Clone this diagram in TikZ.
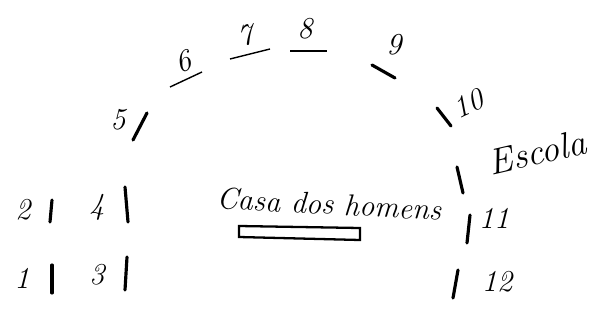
\documentclass[tikz,border=0pt]{standalone}
\usepackage{tikz}

\begin{document}
\begin{tikzpicture}[x=0.2mm,y=-0.2mm,
    house/.style={line width=1.8pt,line cap=round},
    num/.style={font=\LARGE\itshape,inner sep=0pt}]
    \useasboundingbox (0,0) rectangle (600,321);
    % houses on the left
    \node[num] (n2) at (23,210) {2};
    \draw[house] (52,200) -- (50,222);
    \node[num] (n4) at (97,207) {4};
    \draw[house] (125,187) -- (128,222);
    \node[num] (n1) at (22,278) {1};
    \draw[house] (52,265) -- (52,293);
    \node[num] (n3) at (97,275) {3};
    \draw[house] (127,257) -- (125,290);
    % the arc of houses
    \node[num] (n5) at (118,120) {5};
    \draw[house] (147,113) -- (133,140);
    \node[num,rotate=20] (n6) at (183,62) {6};
    \draw[thick] (170,87) -- (202,72);
    \node[num,rotate=10] (n7) at (245,36) {7};
    \draw[thick] (230,59) -- (270,49);
    \node[num] (n8) at (305,29) {8};
    \draw[thick] (290,51) -- (327,51);
    \node[num] (n9) at (394,45) {9};
    \draw[house] (372,65) -- (395,78);
    \node[num,rotate=25] (n10) at (468,104) {10};
    \draw[house] (437,108) -- (451,126);
    % school and the houses on the right
    \node[num,font=\huge\itshape,rotate=13] (escola) at (537,152) {Escola};
    \draw[house] (457,167) -- (463,193);
    \node[num] (n11) at (494,218) {11};
    \draw[house] (470,215) -- (467,243);
    \node[num] (n12) at (497,282) {12};
    \draw[house] (458,270) -- (453,298);
    % men's house
    \node[num,rotate=-3] (casa) at (329,204) {Casa dos homens};
    \draw[line width=1.3pt] (239,226) -- (360,228) -- (360,240) -- (239,237) -- cycle;
\end{tikzpicture}
\end{document}
